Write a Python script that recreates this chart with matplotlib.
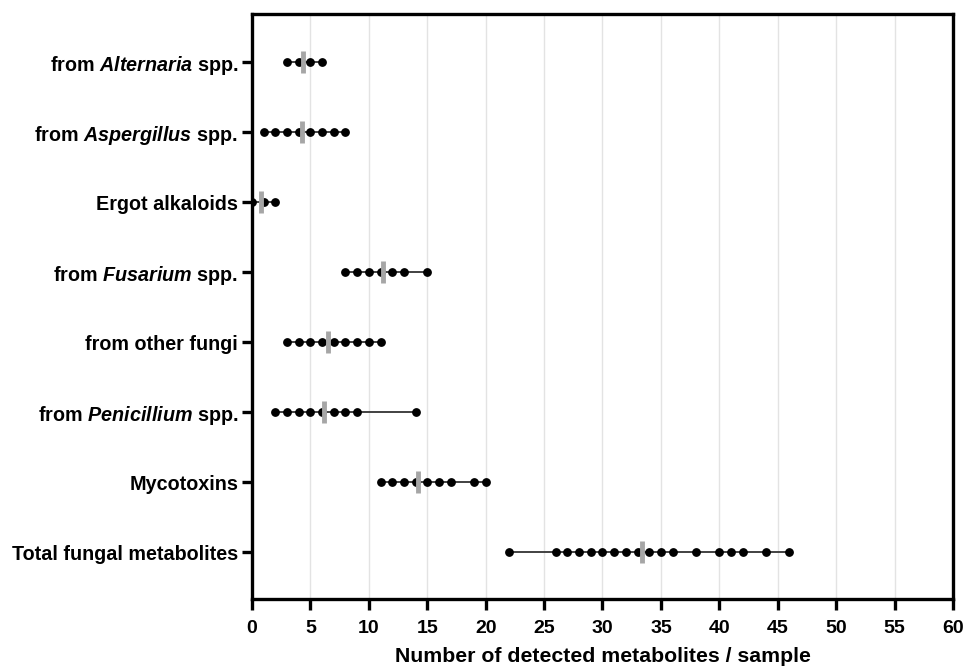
import numpy as np
import matplotlib
matplotlib.use("Agg")
import matplotlib.pyplot as plt

plt.rcParams['font.family'] = ['Liberation Sans', 'DejaVu Sans']
plt.rcParams['mathtext.fontset'] = 'custom'
plt.rcParams['mathtext.it'] = 'Liberation Sans:bold:italic'
plt.rcParams['mathtext.rm'] = 'Liberation Sans:bold'
plt.rcParams['mathtext.bf'] = 'Liberation Sans:bold'

# categories, top to bottom
categories = [
    r"from $\mathit{Alternaria}$ spp.",
    r"from $\mathit{Aspergillus}$ spp.",
    "Ergot alkaloids",
    r"from $\mathit{Fusarium}$ spp.",
    "from other fungi",
    r"from $\mathit{Penicillium}$ spp.",
    "Mycotoxins",
    "Total fungal metabolites",
]

# detected metabolite counts per sample (distinct values shown)
alternaria = [3, 4, 5, 6]
aspergillus = [1, 2, 3, 4, 5, 6, 7, 8]
ergot = [0, 1, 2]
fusarium = [8, 9, 10, 11, 12, 13, 15]
other_fungi = [3, 4, 5, 6, 7, 8, 9, 10, 11]
penicillium = [2, 3, 4, 5, 6, 7, 8, 9, 14]
mycotoxins = [11, 12, 13, 14, 15, 16, 17, 19, 20]
total = [22, 26, 27, 28, 29, 30, 31, 32, 33, 34, 35, 36, 38, 40, 41, 42, 44, 46]

series = [alternaria, aspergillus, ergot, fusarium, other_fungi,
          penicillium, mycotoxins, total]
means = [4.35, 4.3, 0.77, 11.2, 6.5, 6.15, 14.2, 33.35]

fig = plt.figure(figsize=(9.76, 6.68), dpi=100)
ax = fig.add_axes([0.2582, 0.1033, 0.7182, 0.875])

for i, vals in enumerate(series):
    ax.plot([min(vals), max(vals)], [i, i], color='#333333', lw=1.3, zorder=2)
    ax.plot(vals, [i] * len(vals), 'o', color='black', ms=5.3, zorder=3)
    ax.plot([means[i], means[i]], [i - 0.16, i + 0.16], color='#a6a6a6',
            lw=3.5, solid_capstyle='butt', zorder=4)

ax.set_xlim(0, 60)
ax.set_ylim(7.67, -0.68)
ax.set_xticks(np.arange(0, 61, 5))
ax.set_yticks(range(len(categories)))
ax.set_yticklabels(categories, fontsize=14.2, fontweight='bold')
for lab in ax.get_xticklabels():
    lab.set_fontweight('bold')
    lab.set_fontsize(14)

ax.grid(axis='x', color='#e3e3e3', lw=1)
ax.set_axisbelow(True)
for sp in ax.spines.values():
    sp.set_linewidth(2.4)
ax.tick_params(axis='both', width=2.4, length=7, color='black')
ax.tick_params(axis='y', pad=3)
ax.tick_params(axis='x', length=8, pad=7)

ax.set_xlabel("Number of detected metabolites / sample", fontsize=15.3,
              fontweight='bold', labelpad=7.5)

fig.savefig("out.png", dpi=100)
